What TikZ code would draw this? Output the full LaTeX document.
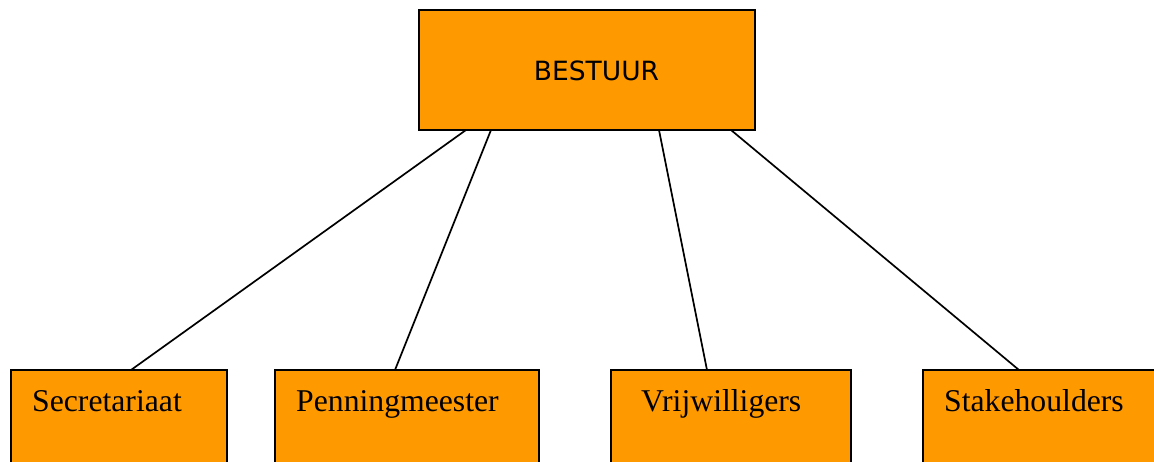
\documentclass[tikz,border=0pt]{standalone}
\usepackage{fontspec}
\setmainfont{Liberation Serif}
\newfontfamily\verd{DejaVu Sans}
\definecolor{boxorange}{HTML}{FF9900}
\begin{document}
\begin{tikzpicture}[x=1pt,y=-1pt,
  orgbox/.style={draw=black,line width=1.6pt,fill=boxorange,anchor=north west,inner sep=0pt,outer sep=0pt},
  sublabel/.style={anchor=base west,inner sep=0pt,font=\fontsize{31.7}{36}\selectfont},
  link/.style={draw=black,line width=1.7pt}]
\useasboundingbox (0,0) rectangle (1154,462);
\clip (0,0) rectangle (1154,462);
% top box
\node[orgbox,minimum width=336pt,minimum height=120pt] (top) at (419,10) {};
\node[inner sep=0pt,font=\verd\fontsize{26.5}{30}\selectfont] (toplabel) at (596.5,71) {BESTUUR};
% bottom boxes
\node[orgbox,minimum width=216pt,minimum height=120pt] (b1) at (11,370) {};
\node[orgbox,minimum width=264pt,minimum height=120pt] (b2) at (275,370) {};
\node[orgbox,minimum width=240pt,minimum height=120pt] (b3) at (611,370) {};
\node[orgbox,minimum width=260pt,minimum height=120pt] (b4) at (923,370) {};
\node[sublabel] (l1) at (32,411) {Secretariaat};
\node[sublabel] (l2) at (296,411) {Penningmeester};
\node[sublabel] (l3) at (641,411) {Vrijwilligers};
\node[sublabel] (l4) at (944,411) {Stakehoulders};
% connector endpoints
\coordinate (t1) at (466,130);
\coordinate (t2) at (491,130);
\coordinate (t3) at (659,130);
\coordinate (t4) at (731,130);
\coordinate (s1) at (131,370);
\coordinate (s2) at (395,370);
\coordinate (s3) at (707,370);
\coordinate (s4) at (1019,370);
\draw[link] (t1) -- (s1);
\draw[link] (t2) -- (s2);
\draw[link] (t3) -- (s3);
\draw[link] (t4) -- (s4);
\end{tikzpicture}
\end{document}
